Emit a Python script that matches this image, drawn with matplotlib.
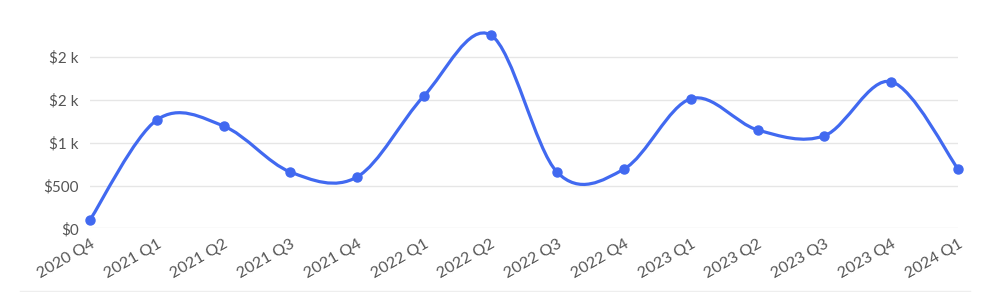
import matplotlib
matplotlib.use("Agg")
import matplotlib.pyplot as plt
from matplotlib.path import Path
from matplotlib.patches import PathPatch
from matplotlib.lines import Line2D
import numpy as np

categories = ["2020 Q4", "2021 Q1", "2021 Q2", "2021 Q3", "2021 Q4", "2022 Q1", "2022 Q2",
              "2022 Q3", "2022 Q4", "2023 Q1", "2023 Q2", "2023 Q3", "2023 Q4", "2024 Q1"]
values = [100, 1263, 1193, 658, 600, 1542, 2253, 652, 693, 1511, 1147, 1080, 1709, 693]
ytick_values = [0, 500, 1000, 1500, 2000]
ytick_labels = ["$0", "$500", "$1 k", "$2 k", "$2 k"]

plt.rcParams['font.family'] = ['Lato', 'DejaVu Sans']
LINE = "#4169f0"
TXT = "#555555"

fig = plt.figure(figsize=(10, 2.92), dpi=100)
ax = fig.add_axes([0.09, 0.2175, 0.868, 0.706])

x = np.arange(len(values), dtype=float)
y = np.array(values, dtype=float)

# Catmull-Rom spline as cubic Bezier segments
verts = [(x[0], y[0])]
codes = [Path.MOVETO]
n = len(x)
for i in range(n - 1):
    p0 = np.array([x[max(i - 1, 0)], y[max(i - 1, 0)]])
    p1 = np.array([x[i], y[i]])
    p2 = np.array([x[i + 1], y[i + 1]])
    p3 = np.array([x[min(i + 2, n - 1)], y[min(i + 2, n - 1)]])
    c1 = p1 + (p2 - p0) / 6.0
    c2 = p2 - (p3 - p1) / 6.0
    verts += [tuple(c1), tuple(c2), tuple(p2)]
    codes += [Path.CURVE4] * 3
ax.add_patch(PathPatch(Path(verts, codes), fill=False, edgecolor=LINE, lw=2.3,
                       capstyle='round', joinstyle='round', clip_on=False, zorder=3))
ax.plot(x, y, 'o', color=LINE, ms=6.5, clip_on=False, zorder=4)

ax.set_xlim(0, n - 1)
ax.set_ylim(0, 2400)
ax.set_yticks(ytick_values)
ax.set_yticklabels(ytick_labels)
ax.set_xticks(x)
ax.set_xticklabels(categories, rotation=30, ha='right', rotation_mode='anchor')
ax.grid(axis='y', color='#e6e6e6', lw=1)
ax.set_axisbelow(True)
for s in ax.spines.values():
    s.set_visible(False)
ax.tick_params(axis='both', length=0, colors=TXT)
ax.tick_params(axis='y', pad=8, labelsize=11)
ax.tick_params(axis='x', pad=6, labelsize=11.5)

fig.add_artist(Line2D([0.02, 0.97], [0.005, 0.005], transform=fig.transFigure,
                      color='#eeeeee', lw=1))

fig.savefig("out.png", dpi=100)
